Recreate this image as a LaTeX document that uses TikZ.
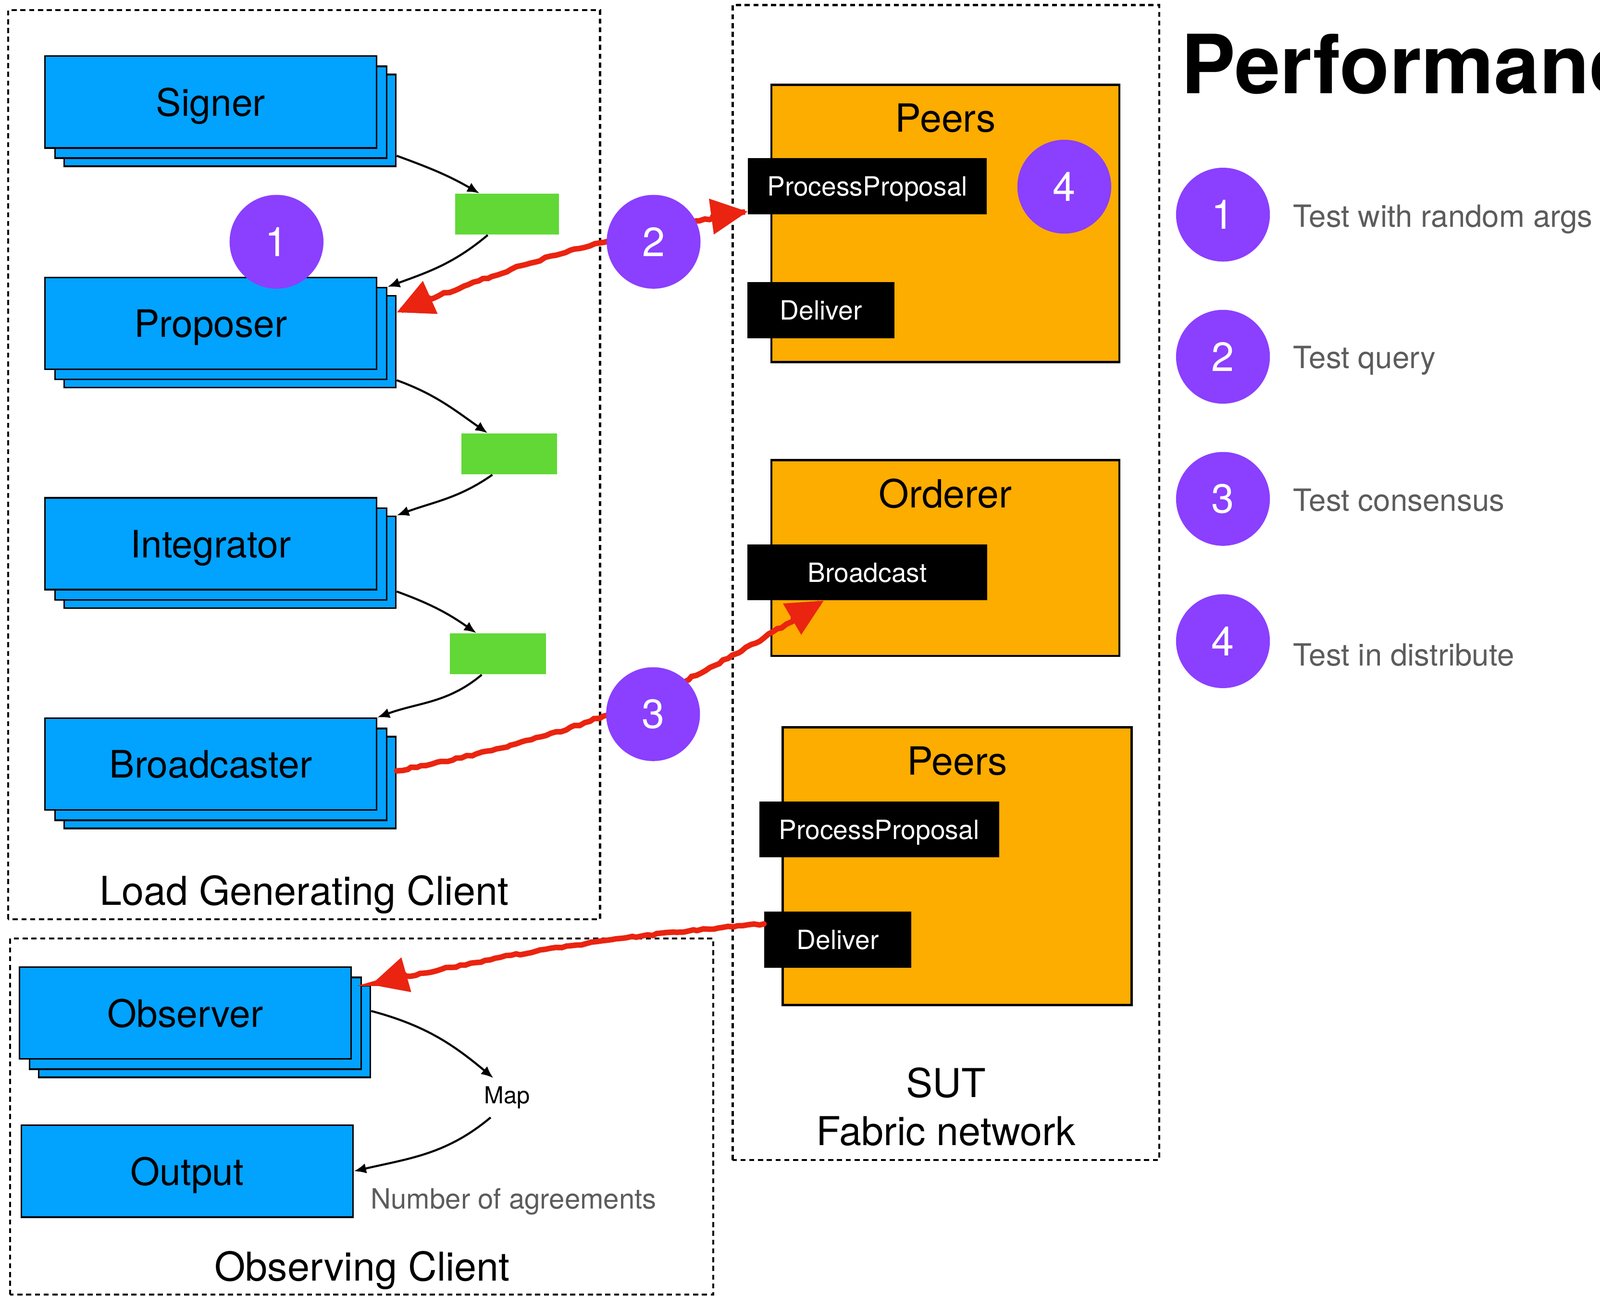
\documentclass[tikz,border=0pt]{standalone}
\usepackage{fontspec}
\setmainfont{TeX Gyre Heros}
\usepackage[svgnames]{xcolor}
\usepackage{tikz}
\usetikzlibrary{positioning, arrows.meta, calc, decorations.pathmorphing}

\definecolor{actorblue}{RGB}{2,162,255}
\definecolor{queuegreen}{RGB}{97,216,54}
\definecolor{peerorange}{RGB}{253,172,0}
\definecolor{stepviolet}{RGB}{139,63,255}
\definecolor{sketchred}{RGB}{234,36,16}
\definecolor{notegray}{RGB}{92,92,92}

\def\raster{0.5pt}

\tikzset{
    actor/.style={draw=black, line width=0.8pt, fill=actorblue, inner sep=0pt,
        minimum width=325*\raster, minimum height=90*\raster, text depth=0pt,
        font=\fontsize{18.5}{22}\selectfont},
    queue/.style={fill=queuegreen, inner sep=0pt, minimum height=40*\raster},
    frame/.style={draw=black, line width=1pt, dash pattern=on 2.5pt off 1.8pt},
    peerbox/.style={draw=black, line width=1.1pt, fill=peerorange, inner sep=0pt,
        minimum width=341*\raster},
    callbox/.style={fill=black, text=white, inner sep=0pt, minimum height=55*\raster,
        text depth=0pt, font=\fontsize{13}{15}\selectfont},
    stepmark/.style={circle, fill=stepviolet, text=white, inner sep=0pt,
        minimum size=92*\raster, font=\fontsize{20}{24}\selectfont},
    caption/.style={font=\fontsize{19.5}{23.5}\selectfont, inner sep=0pt, align=center},
    note/.style={text=notegray, inner sep=0pt, anchor=base west,
        font=\fontsize{15}{17}\selectfont},
    flow/.style={draw=black, line width=1pt, -{Latex[length=6pt, width=5pt]}},
    redtip/.tip={Triangle[length=18pt, width=17pt]},
    sketch/.style={draw=sketchred, line width=2.7pt, line cap=round,
        decorate, decoration={random steps, segment length=2.5pt, amplitude=0.5pt}}
}

\begin{document}
\begin{tikzpicture}
    \useasboundingbox (0,0) rectangle (1568*\raster, 1270*\raster);
    \clip (0,0) rectangle (1568*\raster, 1270*\raster);

    % dashed client frames
    \draw[frame] (8*\raster, 369*\raster) rectangle (588*\raster, 1260*\raster);
    \draw[frame] (718*\raster, 133*\raster) rectangle (1136*\raster, 1265*\raster);
    \draw[frame] (10*\raster, 1*\raster) rectangle (699*\raster, 350*\raster);

    \node[caption] (lgc) at (298*\raster, 393*\raster) {Load Generating Client};
    \node[caption] (obc) at (355*\raster, 25*\raster) {Observing Client};
    \node[caption] (sut) at (927*\raster, 185*\raster) {SUT\\Fabric network};

    % stacked actors
    \foreach \name/\x/\y/\lbl in {
        signer/206.5/1170/Signer,
        proposer/206.5/953/Proposer,
        integrator/206.5/737/Integrator,
        broadcaster/206.5/521/Broadcaster,
        observer/181.5/277/Observer}{

        \node[actor] (\name3) at ({(\x+19)*\raster}, {(\y-18)*\raster}) {};
        \node[actor] (\name2) at ({(\x+10)*\raster}, {(\y-10)*\raster}) {};
        \node[actor] (\name) at (\x*\raster, \y*\raster) {\lbl};
    }
    \node[actor] (output) at (183.5*\raster, 122*\raster) {Output};

    % channels between actors
    \foreach \name/\x/\y/\w in {q1/497/1060/102, q2/499/825/94, q3/488/629/94}
        \node[queue, minimum width=\w*\raster] (\name) at (\x*\raster, \y*\raster) {};

    \node[font=\fontsize{11.5}{14}\selectfont, inner sep=4pt] (map) at (497*\raster, 194*\raster) {Map};
    \node[note, font=\fontsize{13.7}{16}\selectfont] (agree) at (363*\raster, 85*\raster) {Number of agreements};

    \draw[flow] (signer3.-12) to[out=-20, in=150] (q1.143);
    \draw[flow] (q1.-133) to[out=-140, in=20] (proposer2.north east);
    \draw[flow] (proposer3.-13.5) to[out=-20, in=145] (q2.136);
    \draw[flow] (q2.-129) to[out=-145, in=20] (integrator3.north east);
    \draw[flow] (integrator3.-10) to[out=-20, in=145] (q3.136);
    \draw[flow] (q3.-128) to[out=-140, in=20] (broadcaster.north east);
    \draw[flow] (observer3.7) to[out=-15, in=140] (map.125);
    \draw[flow] (map.230) to[out=-140, in=13] (output.east);

    % fabric network
    \node[peerbox, minimum height=272*\raster] (peers1) at (926.5*\raster, 1051*\raster) {};
    \node[peerbox, minimum height=192*\raster] (orderer) at (926.5*\raster, 723*\raster) {};
    \node[peerbox, minimum height=272*\raster, minimum width=342*\raster] (peers2) at (938*\raster, 421*\raster) {};

    \foreach \host/\lbl in {peers1/Peers, orderer/Orderer, peers2/Peers}
        \node[font=\fontsize{19}{23}\selectfont, inner sep=0pt] (\host-title)
            at ($(\host.north)+(0,-34*\raster)$) {\lbl};

    \foreach \name/\x/\y/\w/\lbl in {
        pp1/850/1087.5/234/ProcessProposal,
        del1/804.5/966/144/Deliver,
        bc/850/709/235/Broadcast,
        pp2/861.5/457/235/ProcessProposal,
        del2/821/349/144/Deliver}
        \node[callbox, minimum width=\w*\raster] (\name) at (\x*\raster, \y*\raster) {\lbl};

    % red calls
    \draw[sketch, redtip-redtip] (proposer3.10) to[bend left=6] (pp1.192);
    \draw[sketch, -redtip] (broadcaster3.4) to[bend right=11] (bc.-147);
    \draw[sketch, -redtip] (del2.168) to[bend right=4] (observer3.north east);

    % test marks
    \foreach \name/\x/\y/\i in {m1/271/1033/1, m2/640.5/1033/2, m3/640/570/3, m4/1043/1087/4}
        \node[stepmark] (\name) at (\x*\raster, \y*\raster) {\i};

    % legend
    \node[font=\fontsize{40}{48}\bfseries\selectfont, inner sep=0pt, anchor=base west]
        (title) at (1157*\raster, 1178.5*\raster) {Performance};

    \foreach \i/\y/\ty/\lbl in {
        1/1059.6/1047.6/Test with random args,
        2/920.3/909/Test query,
        3/781/769/Test consensus,
        4/641.5/617.6/Test in distribute}{

        \node[stepmark] (key\i) at (1198.5*\raster, \y*\raster) {\i};
        \node[note] (keytext\i) at (1267*\raster, \ty*\raster) {\lbl};
    }
\end{tikzpicture}
\end{document}
